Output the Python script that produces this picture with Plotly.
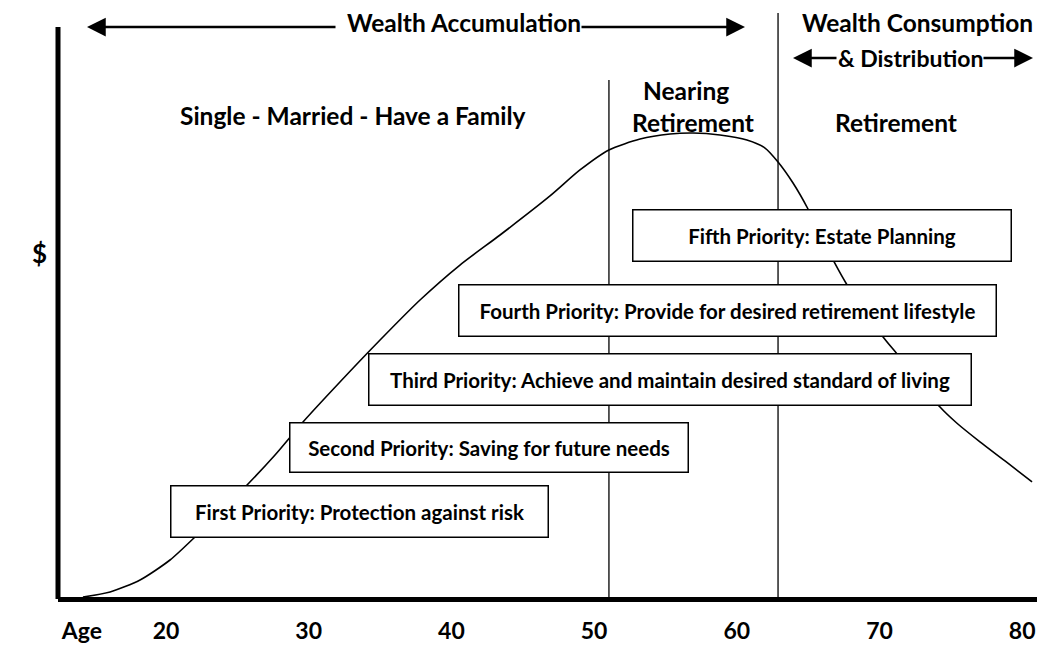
import plotly.graph_objects as go

# ---------------- data ----------------
ages = [14.18, 16.08, 18.18, 20.28, 22.03, 23.78, 25.68, 27.64, 29.60, 32.19, 35.00,
        37.80, 40.60, 43.41, 46.91, 49.01, 51.04, 53.22, 55.32, 56.93, 58.82, 60.71,
        61.98, 62.89, 63.94, 64.99, 65.83, 66.82, 67.73, 68.98, 70.25, 71.23, 72.70,
        74.24, 75.43, 77.04, 78.93, 80.69]
wealth = [0.0, 0.84, 2.87, 6.25, 10.14, 14.36, 18.92, 23.99, 29.56, 36.32, 43.41,
          50.17, 56.08, 61.15, 67.74, 72.13, 75.51, 77.36, 78.21, 78.38, 78.04, 77.20,
          75.84, 73.48, 69.93, 65.54, 61.32, 56.59, 52.70, 48.31, 43.92, 41.05, 36.66,
          32.09, 29.35, 26.21, 22.74, 19.43]

tick_vals = [14.1, 20, 30, 40, 50, 60, 70, 80]
tick_text = ["Age", "20", "30", "40", "50", "60", "70", "80"]

phase_boundaries = [51.04, 62.89]

priorities = [
    "First Priority: Protection against risk",
    "Second Priority: Saving for future needs",
    "Third Priority: Achieve and maintain desired standard of living",
    "Fourth Priority: Provide for desired retirement lifestyle",
    "Fifth Priority: Estate Planning",
]

# ---------------- layout helpers ----------------
FW, FH = 1064, 645
L, R, T, B = 58, 1037, 13, 597        # plot area in screen pixels
X0 = 20 + (L - 166) / 14.27
X1 = 20 + (R - 166) / 14.27
Y1 = (B - T) / 5.92


def px(x):
    return (x - L) / (R - L)


def py(y):
    return (B - y) / (B - T)


FONT = "Lato"
fig = go.Figure()

fig.add_trace(go.Scatter(x=ages, y=wealth, mode="lines",
                         line=dict(color="black", width=1.6, shape="spline", smoothing=0.7),
                         hoverinfo="skip", showlegend=False))

shapes = []
# y axis (thick)
shapes.append(dict(type="line", xref="paper", yref="paper", x0=0, x1=0,
                   y0=py(B + 2), y1=py(27), line=dict(color="black", width=5)))
# phase boundary lines
tops = [80, 13]
for a, t in zip(phase_boundaries, tops):
    shapes.append(dict(type="line", xref="x", yref="paper", x0=a, x1=a,
                       y0=0, y1=py(t), line=dict(color="black", width=1.3)))

annotations = []
# priority boxes (screen pixel boxes)
boxes = [(170, 549, 485, 538), (289, 689, 422, 473), (368, 972, 353, 406),
         (458, 997, 284, 337), (632, 1012, 209, 262)]
for (x0, x1, y0, y1), txt in zip(boxes, priorities):
    annotations.append(dict(
        xref="paper", yref="paper", x=px((x0 + x1) / 2), y=py((y0 + y1) / 2),
        text=txt, showarrow=False, xanchor="center", yanchor="middle",
        width=x1 - x0 - 3, height=y1 - y0 - 3, borderpad=0,
        bordercolor="black", borderwidth=1.5, bgcolor="white",
        font=dict(family=FONT, size=20.5, color="black", weight="bold")))


def label(text, x, y, size=24.5):
    annotations.append(dict(xref="paper", yref="paper", x=px(x), y=py(y), text=text,
                            showarrow=False, xanchor="center", yanchor="middle",
                            font=dict(family=FONT, size=size, color="black", weight="bold")))


label("Wealth Accumulation", 464, 23)
label("Wealth Consumption", 917, 23)
label("& Distribution", 910, 58, size=23)
label("Nearing", 686, 90)
label("Retirement", 693, 122)
label("Retirement", 896, 122)
label("Single - Married - Have a Family", 353, 116)
label("$", 39, 253, size=26)


def arrow(xh, yh, xt, yt):
    annotations.append(dict(xref="paper", yref="paper", x=px(xh), y=py(yh),
                            axref="pixel", ayref="pixel", ax=xt - xh, ay=yt - yh,
                            text="", showarrow=True, arrowhead=2, arrowsize=1.5,
                            arrowwidth=2.5, arrowcolor="black"))


arrow(87, 27, 337, 27)
arrow(745, 27, 580, 27)
arrow(793, 58, 838, 58)
arrow(1033, 58, 982, 58)

fig.update_layout(
    width=FW, height=FH,
    margin=dict(l=L, r=FW - R, t=T, b=FH - B, autoexpand=False),
    paper_bgcolor="white", plot_bgcolor="white",
    shapes=shapes, annotations=annotations,
    xaxis=dict(range=[X0, X1], showgrid=False, zeroline=False,
               showline=True, linecolor="black", linewidth=5,
               tickvals=tick_vals, ticktext=tick_text, ticks="",
               ticklabelstandoff=9,
               tickfont=dict(family=FONT, size=23, color="black", weight="bold")),
    yaxis=dict(range=[0, Y1], showgrid=False, zeroline=False, showline=False,
               showticklabels=False, ticks=""),
)

fig.write_html("out.html", config={"displayModeBar": False},
               post_script="document.body.style.margin='0';document.body.style.overflow='hidden';")
